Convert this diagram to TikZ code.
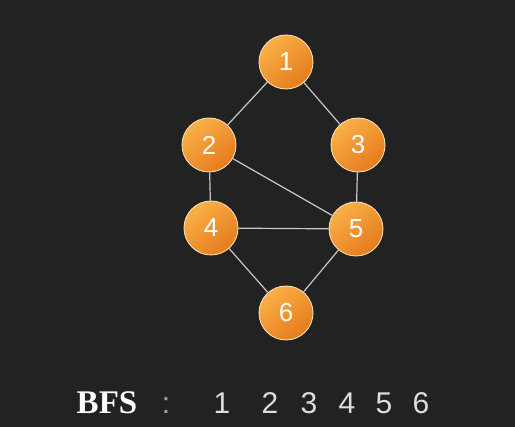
\documentclass[tikz,border=0pt]{standalone}
\usepackage{fontspec}
\setmainfont{Liberation Sans}
\newfontfamily\titrefont{Liberation Serif}
\definecolor{fond}{HTML}{222222}
\definecolor{orclair}{HTML}{FAB048}
\definecolor{orfonce}{HTML}{E57B1C}
\definecolor{bord}{HTML}{F7DDB0}
\definecolor{arete}{HTML}{C8C8C8}
\definecolor{ordre}{HTML}{DDDDDD}
\begin{document}
\begin{tikzpicture}[x=1pt,y=-1pt,
  sommet/.style={circle,minimum size=54pt,inner sep=0pt,draw=bord,line width=0.9pt,
    top color=orclair,bottom color=orfonce,shading angle=40,
    text=white,font=\fontsize{26}{26}\selectfont},
  lien/.style={arete,line width=1.2pt},
  parcours/.style={anchor=base,text=ordre,font=\fontsize{30}{30}\selectfont}]
%fond
\fill[fond] (0,0) rectangle (515,427);
\useasboundingbox (0,0) rectangle (515,427);
%fin

%sommets
\node[sommet] (s1) at (286,62) {1};
\node[sommet] (s2) at (209,145) {2};
\node[sommet] (s3) at (358,145) {3};
\node[sommet] (s4) at (211,228) {4};
\node[sommet] (s5) at (356,229) {5};
\node[sommet] (s6) at (286,313) {6};
%fin

%aretes
\draw[lien] (s1) -- (s2);
\draw[lien] (s1) -- (s3);
\draw[lien] (s2) -- (s4);
\draw[lien] (s2) -- (s5);
\draw[lien] (s3) -- (s5);
\draw[lien] (s4) -- (s5);
\draw[lien] (s4) -- (s6);
\draw[lien] (s5) -- (s6);
%fin

%ordre BFS
\node[anchor=base,text=white,font=\titrefont\bfseries\fontsize{33}{33}\selectfont] (bfs) at (107,414) {BFS};
\node[parcours,text=gray!70] (dp) at (166,414) {:};
\foreach \n/\x in {1/222,2/270,3/309,4/347,5/384,6/421}
  \node[parcours] (o\n) at (\x,414) {\n};
%fin
\end{tikzpicture}
\end{document}
